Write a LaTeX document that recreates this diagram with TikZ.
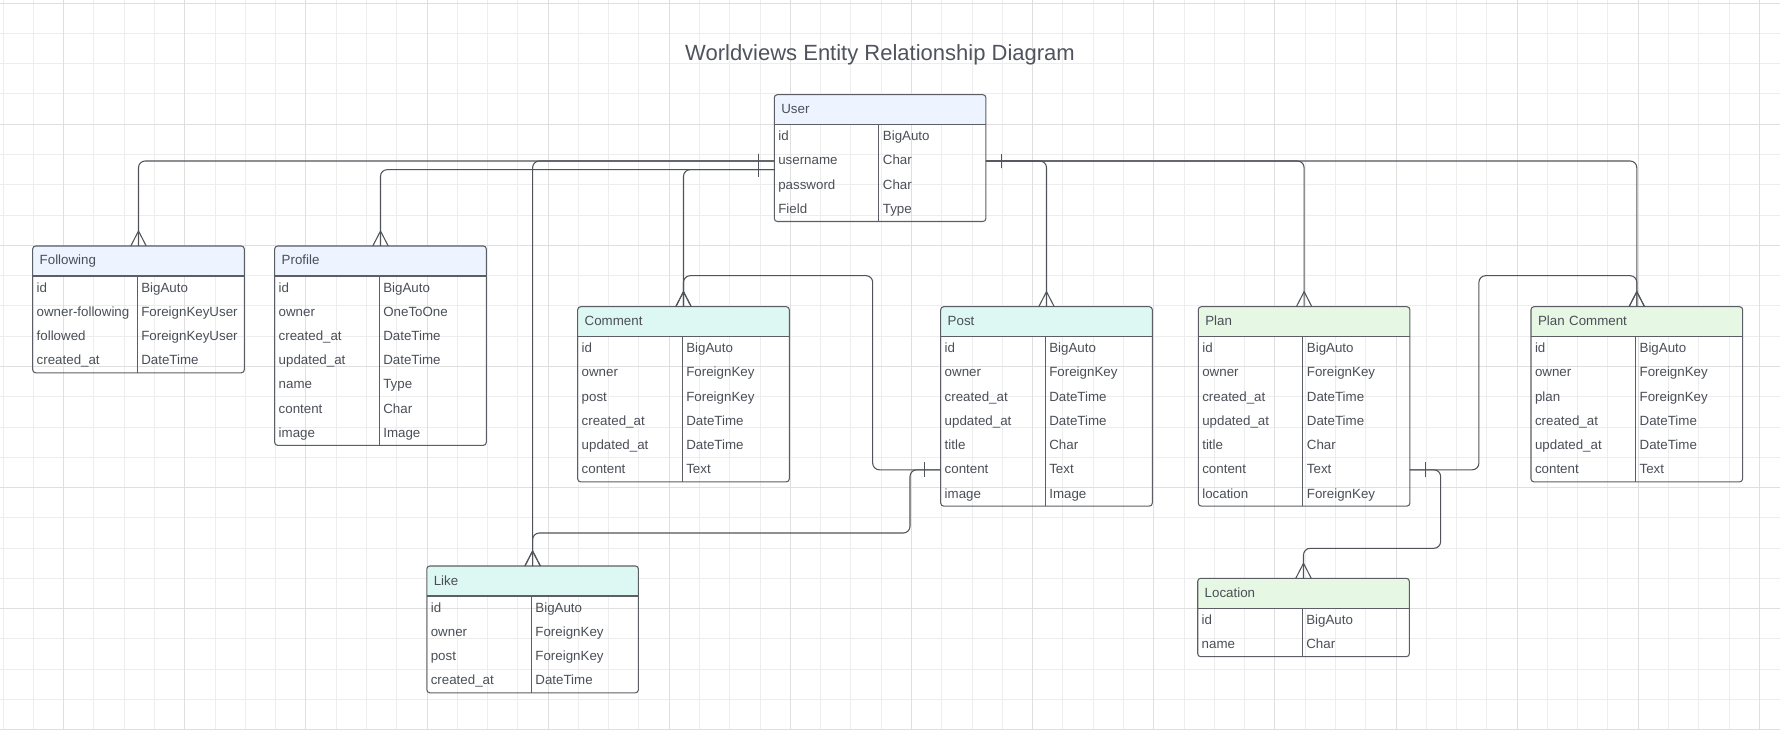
\documentclass[tikz,border=0pt]{standalone}
\usepackage{fontspec}
\setmainfont{Liberation Sans}
\usetikzlibrary{decorations.markings}
\hyphenpenalty=10000
\exhyphenpenalty=10000

\definecolor{inkgray}{HTML}{4A4F57}
\definecolor{titlegray}{HTML}{4E535D}
\definecolor{boxline}{HTML}{5B5F65}
\definecolor{relline}{HTML}{50545A}
\definecolor{gridminor}{HTML}{EDEDED}
\definecolor{gridmajor}{HTML}{DFDFDF}
\definecolor{headblue}{HTML}{EDF4FF}
\definecolor{headcyan}{HTML}{DDF7F3}
\definecolor{headgreen}{HTML}{E6F7E3}

\tikzset{
  enthead/.style={rectangle, anchor=north west, inner xsep=5.25pt, inner ysep=0pt, outer sep=0pt,
    minimum width=158.7pt, minimum height=22.5pt, text width=148.2pt, align=left,
    text height=8pt, text depth=2pt, text=inkgray},
  entcell/.style={rectangle, anchor=north west, inner xsep=3pt, inner ysep=0pt, outer sep=0pt,
    minimum height=18.15pt, align=left, text height=8pt, text depth=2pt, text=inkgray},
  entline/.style={draw=boxline, line width=0.8pt},
  rel/.style={draw=relline, line width=0.8pt, rounded corners=5pt},
  onebar/.style={postaction={decorate, decoration={markings,
      mark=at position 12pt with {\draw[relline, line width=0.8pt, sharp corners] (0,-5.6pt) -- (0,5.6pt);}}}},
  crowfoot/.style={postaction={decorate, decoration={markings,
      mark=at position 1 with {\draw[relline, line width=0.8pt, sharp corners] (0,5.8pt) -- (-11.25pt,0) -- (0,-5.8pt);}}}},
  title/.style={anchor=base, text=titlegray, font=\fontsize{16.5pt}{20pt}\selectfont},
}

% name, position (px), header colour, title, field/type rows
\newcommand{\entity}[5]{%
  \node[enthead, fill=#3] (#1) at (#2) {#4};
  \foreach \fld/\typ [count=\rowno] in {#5} {
    \node[entcell, text width=72.45pt, minimum width=78.45pt] (#1-\rowno) at ([yshift=-(\rowno-1)*18.15pt]#1.south west) {\fld};
    \node[entcell, text width=74.25pt, minimum width=80.25pt] (#1-\rowno-t) at (#1-\rowno.north east) {\typ};
    \xdef\lastrow{\rowno}
  }
  \draw[entline, rounded corners=2.25pt] (#1.north west) rectangle (#1-\lastrow-t.south east);
  \draw[entline] (#1.south west) -- (#1.south east);
  \draw[entline] (#1-1.north east) -- (#1-\lastrow.south east);
}

\begin{document}
\begin{tikzpicture}[x=0.75pt,y=-0.75pt]

\useasboundingbox (0,0) rectangle (1780,730);
\fill[white] (0,0) rectangle (1780,730);

%Grid
\foreach \gx in {0,...,58} \draw[gridminor, line width=0.6pt] ({3+30.28*\gx},0) -- ({3+30.28*\gx},730);
\foreach \gy in {0,...,24} \draw[gridminor, line width=0.6pt] (0,{3+30.28*\gy}) -- (1780,{3+30.28*\gy});
\foreach \gx in {2,6,...,58} \draw[gridmajor, line width=0.6pt] ({3+30.28*\gx},0) -- ({3+30.28*\gx},730);
\foreach \gy in {0,4,...,24} \draw[gridmajor, line width=0.6pt] (0,{3+30.28*\gy}) -- (1780,{3+30.28*\gy});

\node[title] (title) at (880,60.7) {Worldviews Entity Relationship Diagram};

%Place the entities
\entity{user}{774.3,94.7}{headblue}{User}{id/BigAuto, username/Char, password/Char, Field/Type}
\entity{following}{32.7,246}{headblue}{Following}{id/BigAuto, owner-following/ForeignKeyUser, followed/ForeignKeyUser, created\_at/DateTime}
\entity{profile}{274.7,246}{headblue}{Profile}{id/BigAuto, owner/OneToOne, created\_at/DateTime, updated\_at/DateTime, name/Type, content/Char, image/Image}
\entity{comment}{577.7,306.7}{headcyan}{Comment}{id/BigAuto, owner/ForeignKey, post/ForeignKey, created\_at/DateTime, updated\_at/DateTime, content/Text}
\entity{post}{940.7,306.7}{headcyan}{Post}{id/BigAuto, owner/ForeignKey, created\_at/DateTime, updated\_at/DateTime, title/Char, content/Text, image/Image}
\entity{plan}{1198.3,306.7}{headgreen}{Plan}{id/BigAuto, owner/ForeignKey, created\_at/DateTime, updated\_at/DateTime, title/Char, content/Text, location/ForeignKey}
\entity{plancomment}{1531,306.7}{headgreen}{Plan Comment}{id/BigAuto, owner/ForeignKey, plan/ForeignKey, created\_at/DateTime, updated\_at/DateTime, content/Text}
\entity{like}{426.8,566}{headcyan}{Like}{id/BigAuto, owner/ForeignKey, post/ForeignKey, created\_at/DateTime}
\entity{location}{1197.7,578.3}{headgreen}{Location}{id/BigAuto, name/Char}

%Draw the relations
\draw[rel, onebar, crowfoot] (user-2.west) -| (following.north);
\draw[rel, onebar, crowfoot] ([yshift=-6.5pt]user-2.west) -| (profile.north);
\draw[rel, onebar, crowfoot] (user-2.west) -| (like.north);
\draw[rel, onebar, crowfoot] ([yshift=-6.5pt]user-2.west) -| (comment.north);
\draw[rel, onebar, crowfoot] (user-2-t.east) -| (post.north);
\draw[rel, onebar, crowfoot] (user-2-t.east) -| (plan.north);
\draw[rel, onebar, crowfoot] (user-2-t.east) -| (plancomment.north);
\draw[rel, onebar, crowfoot] (post-6.west) -- ++(-68,0) |- ([yshift=23.25pt]comment.north) -- (comment.north);
\draw[rel, onebar, crowfoot] (post-6.west) -- ++(-30.7,0) |- ([yshift=24.75pt]like.north) -- (like.north);
\draw[rel, onebar, crowfoot] (plan-6-t.east) -- ++(69,0) |- ([yshift=23.25pt]plancomment.north) -- (plancomment.north);
\draw[rel, onebar, crowfoot] (plan-6-t.east) -- ++(30.7,0) |- ([yshift=22.5pt]location.north) -- (location.north);
\end{tikzpicture}
\end{document}
